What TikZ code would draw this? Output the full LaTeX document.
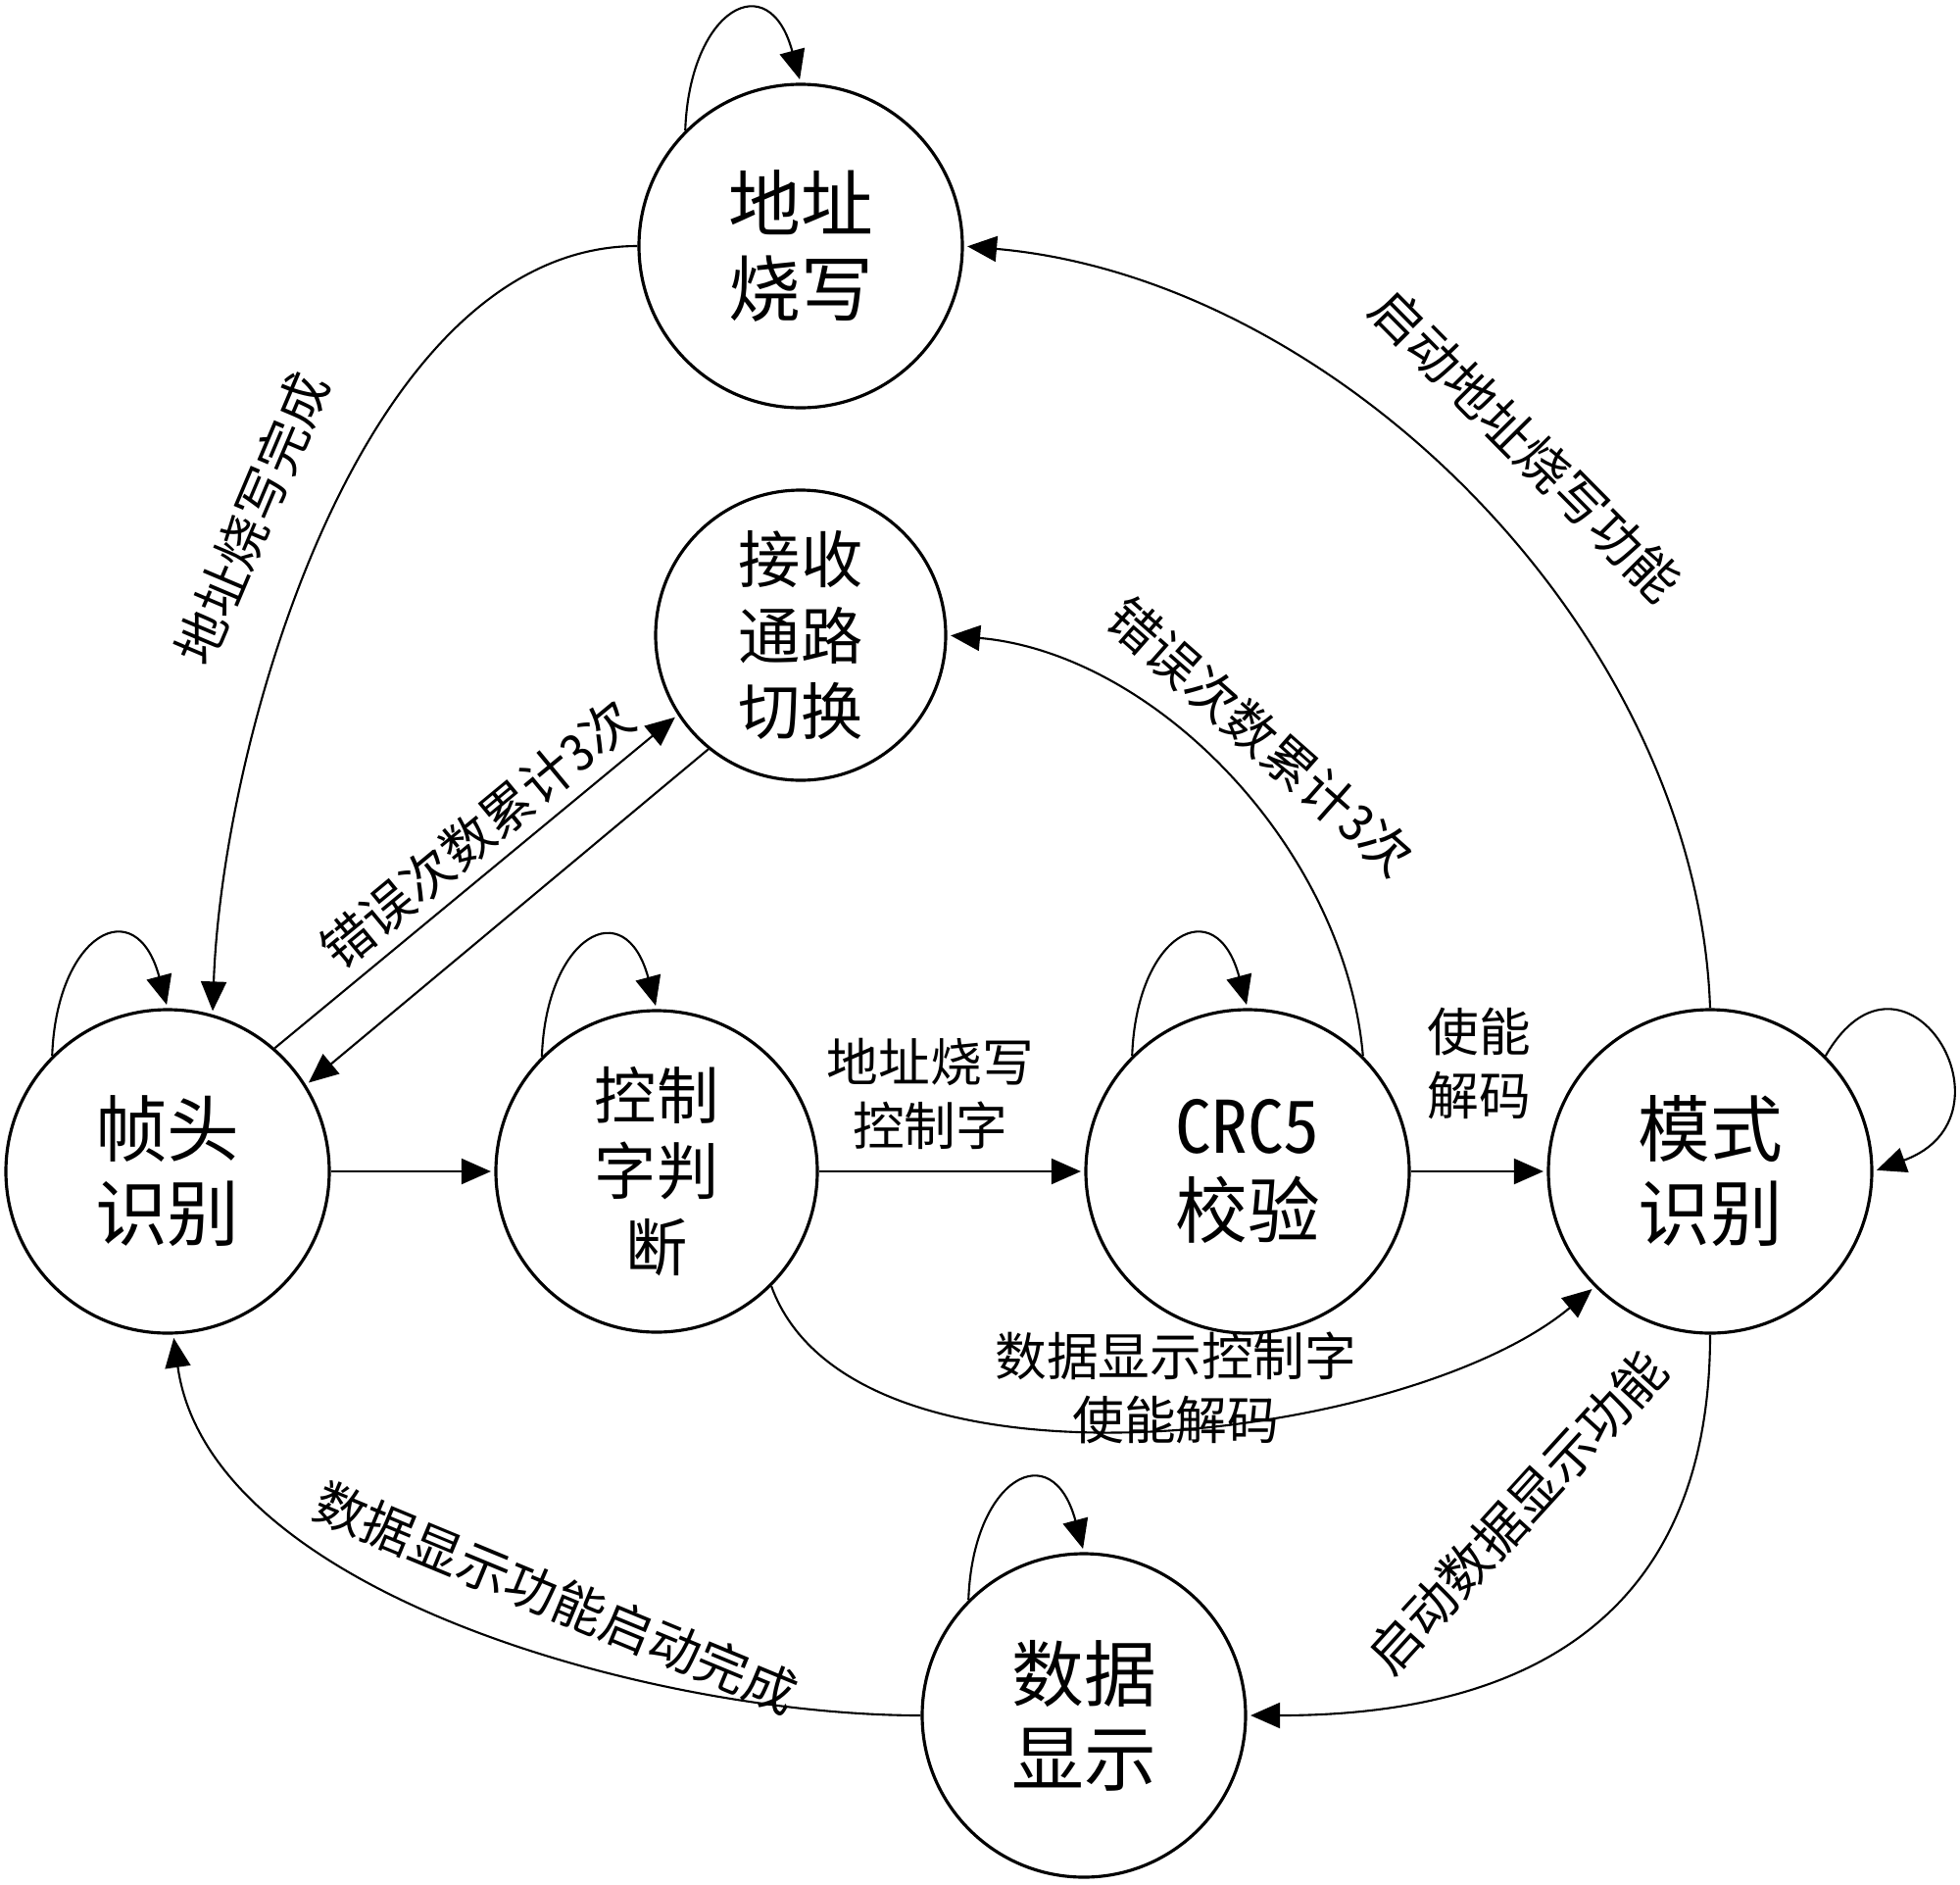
\documentclass[tikz,border=0pt]{standalone}
\usepackage{fontspec}
\setmainfont{Noto Sans CJK SC}[RawFeature=+hwid]
\usetikzlibrary{automata, positioning, arrows.meta}

\tikzset{
  every state/.style={draw, line width=0.9pt, minimum size=3.3cm, inner sep=0pt,
    align=center, font=\fontsize{21}{24.5}\selectfont},
  small text/.style={font=\fontsize{18}{22}\selectfont},
  lbl/.style={font=\fontsize{15}{18.5}\selectfont, align=center},
  selfloop/.style={out=88, in=105, looseness=2.5},
}

\begin{document}
\begin{tikzpicture}[shorten >=1pt, on grid, auto, line width=0.6pt,
    >={Triangle[length=3mm, width=2.6mm]}]
        \useasboundingbox (0,0) rectangle (20,-19.22);
        \node[state] (fh) at (1.71,-11.95) {帧头\\识别};
        \node[state, small text, minimum size=3.28cm, right=4.99 of fh] (ctl) {控制\\字判\\断};
        \node[state, right=6.03 of ctl] (crc) {CRC5\\校验};
        \node[state, right=4.72 of crc] (mode) {模式\\识别};
        \node[state, small text, minimum size=2.96cm, above right=5.47 and 6.46 of fh] (rx) {接收\\通路\\切换};
        \node[state, above=3.97 of rx] (addr) {地址\\烧写};
        \node[state, below left=5.55 and 1.67 of crc] (disp) {数据\\显示};

        \path[->]
        (fh) edge (ctl)
        (ctl) edge node[lbl, above=1mm, pos=0.42] {地址烧写\\控制字} (crc)
        (crc) edge node[lbl, above=4mm] {使能\\解码} (mode)
        (fh.49) edge node[lbl, sloped, above, pos=0.56] {错误次数累计3次} (rx.213)
        (rx.231) edge (fh.32)
        (addr.180) edge[out=180, in=88, looseness=0.8] node[lbl, sloped, above=3.5mm, pos=0.52] {地址烧写完成} (fh.74)
        (mode.90) edge[out=92, in=-5, looseness=0.9] node[lbl, sloped, above=4mm, pos=0.5] {启动地址烧写功能} (addr.0)
        (crc.45) edge[out=95, in=-5, looseness=0.9] node[lbl, sloped, rotate=4, above=1.5mm, pos=0.5] {错误次数累计3次} (rx.0)
        (ctl.-45) edge[out=-70, in=220, looseness=0.75] node[lbl, anchor=center, pos=0.53, yshift=4mm] {数据显示控制字\\使能解码} (mode.225)
        (mode.-90) edge[out=-90, in=0, looseness=1.2] node[lbl, sloped, rotate=4, above=10mm, pos=0.44] {启动数据显示功能} (disp.0)
        (disp.180) edge[out=180, in=-82, looseness=0.8] node[lbl, sloped, rotate=-4, above=2mm, pos=0.42] {数据显示功能启动完成} (fh.-88);

        % self loops
        \path[->]
        (addr.135) edge[selfloop] (addr.90)
        (fh.135) edge[selfloop] (fh.90)
        (ctl.135) edge[selfloop] (ctl.90)
        (crc.135) edge[selfloop] (crc.90)
        (disp.135) edge[selfloop] (disp.90)
        (mode.45) edge[out=60, in=20, out looseness=3.2, in looseness=3.3] (mode.0);
    \end{tikzpicture}
\end{document}
